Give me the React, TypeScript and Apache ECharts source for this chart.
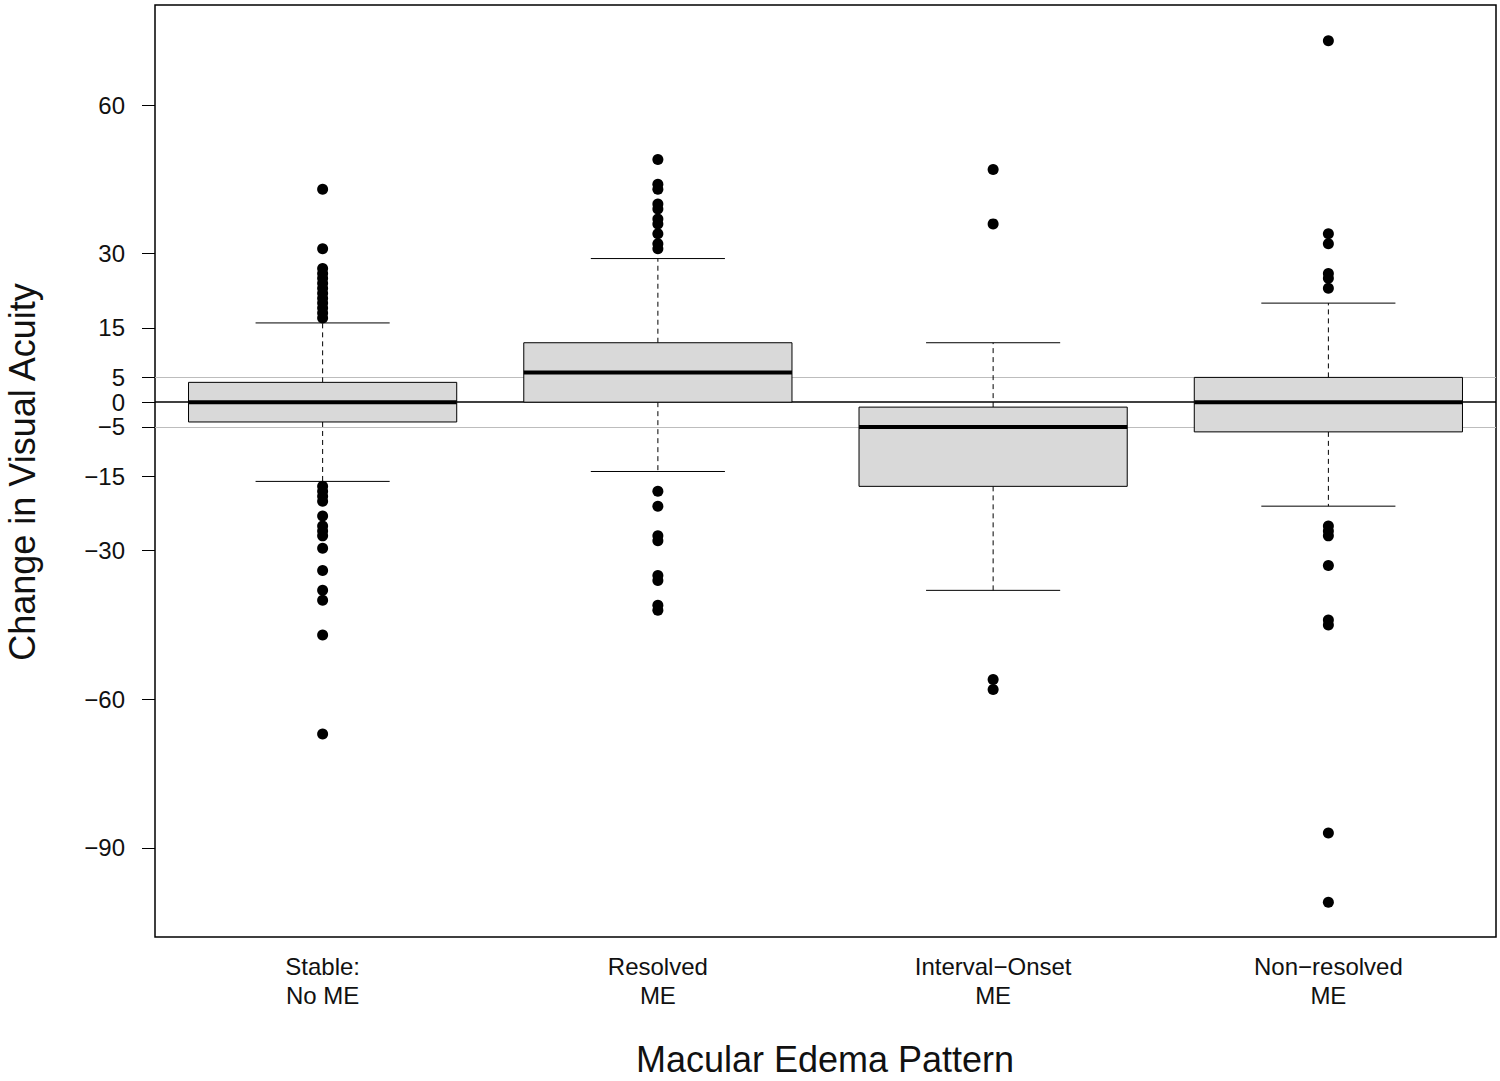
import React, { useEffect, useRef } from "react";
import * as echarts from "echarts";

const categories = ["Stable:\nNo ME", "Resolved\nME", "Interval\u2212Onset\nME", "Non\u2212resolved\nME"];
const whiskerLow = [-16, -14, -38, -21];
const q1 = [-4, 0, -17, -6];
const median = [0, 6, -5, 0];
const q3 = [4, 12, -1, 5];
const whiskerHigh = [16, 29, 12, 20];

const outliersStable = [43, 31, 27, 26, 25, 24, 23, 22, 21, 20, 19, 18, 17, -17, -18, -19, -20, -23, -25, -26, -27, -29.5, -34, -38, -40, -47, -67];
const outliersResolved = [49, 44, 43, 40, 39, 37, 36, 34, 32, 31, -18, -21, -27, -28, -35, -36, -41, -42];
const outliersInterval = [47, 36, -56, -58];
const outliersNonResolved = [73, 34, 32, 26, 25, 23, -25, -26, -27, -33, -44, -45, -87, -101];

const yTicks = [-90, -60, -30, -15, -5, 0, 5, 15, 30, 60];
const refLinesGray = [5, -5];
const refLineBlack = 0;

const FONT = "'Liberation Sans', Arial, Helvetica, sans-serif";

export default function App() {
  const ref = useRef<HTMLDivElement>(null);
  useEffect(() => {
    if (!ref.current) return;
    const chart = echarts.init(ref.current, null, { renderer: "svg" });
    const outlierGroups = [outliersStable, outliersResolved, outliersInterval, outliersNonResolved];
    const scatterData: number[][] = [];
    outlierGroups.forEach((g, i) => g.forEach((v) => scatterData.push([i + 1, v])));
    const boxData = q1.map((_, i) => [i + 1, whiskerLow[i], q1[i], median[i], q3[i], whiskerHigh[i]]);

    chart.setOption({
      animation: false,
      backgroundColor: "#fff",
      textStyle: { fontFamily: FONT },
      grid: { left: 155, right: 4, top: 5, bottom: 144, show: true, borderColor: "#000", borderWidth: 1.5, backgroundColor: "transparent" },
      xAxis: {
        type: "value",
        min: 0.5,
        max: 4.5,
        axisLine: { show: false },
        axisTick: { show: false },
        splitLine: { show: false },
        axisLabel: {
          customValues: [1, 2, 3, 4],
          formatter: (v: number) => categories[Math.round(v) - 1] ?? "",
          fontSize: 24,
          lineHeight: 29,
          color: "#111",
          fontFamily: FONT,
          margin: 15,
        },
      },
      yAxis: {
        type: "value",
        min: -108,
        max: 80.2,
        axisLine: { show: false },
        splitLine: { show: false },
        axisTick: { show: true, customValues: yTicks, length: 13, inside: false, lineStyle: { color: "#000", width: 1 } },
        axisLabel: {
          customValues: yTicks,
          formatter: (v: number) => String(v).replace("-", "\u2212"),
          fontSize: 24,
          color: "#111",
          fontFamily: FONT,
          margin: 30,
        },
      },
      graphic: [
        { type: "text", x: 825, y: 1059, style: { text: "Macular Edema Pattern", fontSize: 36, fontFamily: FONT, fill: "#111", align: "center", verticalAlign: "middle" } },
        { type: "text", x: 22, y: 472, rotation: Math.PI / 2, style: { text: "Change in Visual Acuity", fontSize: 36, fontFamily: FONT, fill: "#111", align: "center", verticalAlign: "middle" } },
      ],
      series: [
        {
          type: "line",
          data: [],
          z: 1,
          markLine: {
            silent: true,
            z: 1,
            symbol: "none",
            label: { show: false },
            data: [
              ...refLinesGray.map((v) => ({ yAxis: v, lineStyle: { color: "#bdbdbd", width: 1.2, type: "solid" } })),
              { yAxis: refLineBlack, lineStyle: { color: "#000", width: 1.5, type: "solid" } },
            ],
          },
        },
        {
          type: "custom",
          z: 10,
          data: boxData,
          encode: { x: 0, y: [1, 2, 3, 4, 5] },
          renderItem: (_params: any, api: any) => {
            const x = api.value(0);
            const lo = api.value(1);
            const a = api.value(2);
            const m = api.value(3);
            const b = api.value(4);
            const hi = api.value(5);
            const c = (xx: number, yy: number) => api.coord([xx, yy]);
            const pLo = c(x, lo), pA = c(x, a), pB = c(x, b), pHi = c(x, hi);
            const capL = c(x - 0.2, 0)[0], capR = c(x + 0.2, 0)[0];
            const boxL = c(x - 0.4, 0)[0], boxR = c(x + 0.4, 0)[0];
            const ym = c(x, m)[1];
            const dash = { stroke: "#000", lineWidth: 1, lineDash: [5, 4], fill: null };
            const solid = { stroke: "#000", lineWidth: 1, fill: null };
            return {
              type: "group",
              children: [
                { type: "line", shape: { x1: pB[0], y1: pB[1], x2: pHi[0], y2: pHi[1] }, style: dash },
                { type: "line", shape: { x1: pA[0], y1: pA[1], x2: pLo[0], y2: pLo[1] }, style: dash },
                { type: "line", shape: { x1: capL, y1: pHi[1], x2: capR, y2: pHi[1] }, style: solid },
                { type: "line", shape: { x1: capL, y1: pLo[1], x2: capR, y2: pLo[1] }, style: solid },
                { type: "rect", shape: { x: boxL, y: pB[1], width: boxR - boxL, height: pA[1] - pB[1] }, style: { fill: "#d9d9d9", stroke: "#000", lineWidth: 1 } },
                { type: "line", shape: { x1: boxL, y1: ym, x2: boxR, y2: ym }, style: { stroke: "#000", lineWidth: 4 } },
              ],
            };
          },
        },
        {
          type: "scatter",
          z: 11,
          data: scatterData,
          symbol: "circle",
          symbolSize: 11,
          itemStyle: { color: "#000", opacity: 1 },
        },
      ],
    });
    return () => chart.dispose();
  }, []);
  return <div ref={ref} style={{ position: "fixed", left: 0, top: 0, width: 1500, height: 1081 }} />;
}
